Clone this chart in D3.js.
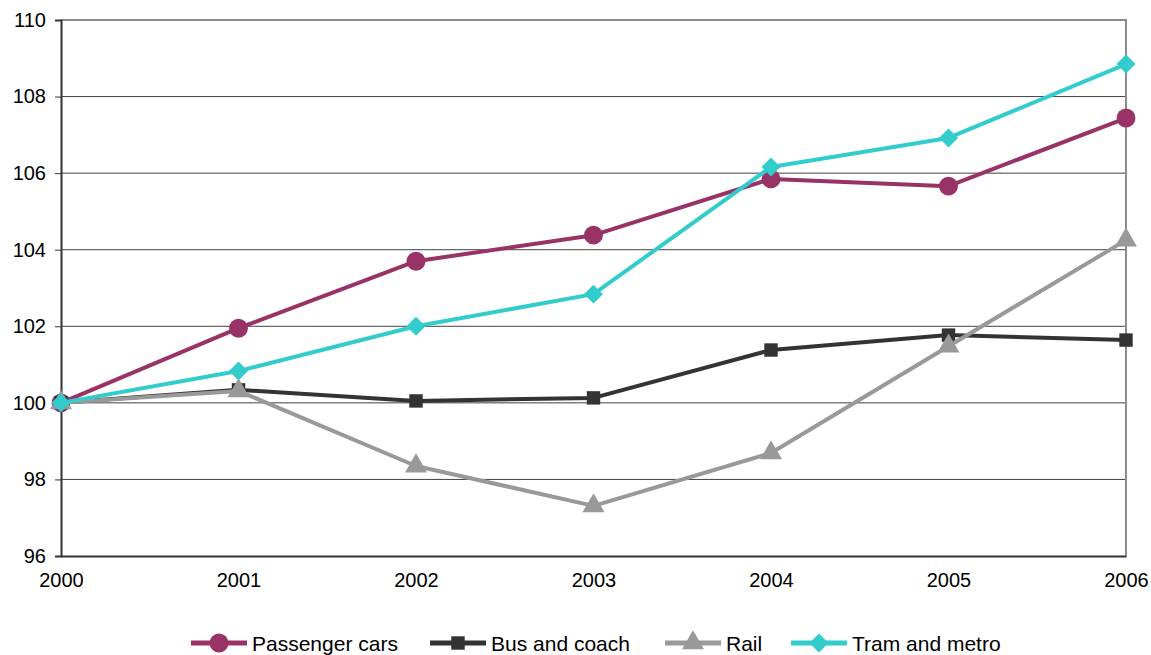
<!DOCTYPE html>
<html>
<head>
<meta charset="utf-8">
<script src="https://cdn.jsdelivr.net/npm/d3@7"></script>
<style>
  html, body { margin: 0; padding: 0; background: #fff; }
  svg { display: block; }
  text { font-family: "Liberation Sans", Arial, sans-serif; fill: #000; }
</style>
</head>
<body>
<svg id="chart" width="1151" height="655"></svg>
<script>
// Index values, 2000 = 100
const years = ["2000", "2001", "2002", "2003", "2004", "2005", "2006"];
const passengerCars = [100, 101.95, 103.70, 104.38, 105.85, 105.66, 107.44];
const busAndCoach   = [100, 100.34, 100.05, 100.13, 101.38, 101.77, 101.64];
const rail          = [100, 100.31, 98.35, 97.31, 98.69, 101.48, 104.25];
const tramAndMetro  = [100, 100.83, 102.00, 102.84, 106.16, 106.92, 108.85];
const yTicks = [96, 98, 100, 102, 104, 106, 108, 110];

const seriesList = [
  { name: "Passenger cars", values: passengerCars, color: "#993366", symbol: "circle" },
  { name: "Bus and coach",  values: busAndCoach,   color: "#333333", symbol: "square" },
  { name: "Rail",           values: rail,          color: "#999999", symbol: "triangle" },
  { name: "Tram and metro", values: tramAndMetro,  color: "#33CCCC", symbol: "diamond" }
];

const svg = d3.select("#chart");
const plot = { left: 61, right: 1126, top: 20, bottom: 556 };

const x = d3.scalePoint().domain(years).range([plot.left, plot.right]);
const y = d3.scaleLinear().domain([96, 110]).range([plot.bottom, plot.top]);

// Horizontal gridlines
svg.append("g")
  .selectAll("line")
  .data(yTicks.filter(t => t !== 96 && t !== 110))
  .join("line")
  .attr("x1", plot.left).attr("x2", plot.right)
  .attr("y1", d => y(d)).attr("y2", d => y(d))
  .attr("stroke", "#404040").attr("stroke-width", 1);

// Top and right frame
svg.append("path")
  .attr("d", `M${plot.left},${plot.top}H${plot.right}V${plot.bottom}`)
  .attr("fill", "none").attr("stroke", "#8c8c8c").attr("stroke-width", 2);

// Y axis
const yAxis = svg.append("g")
  .attr("transform", `translate(${plot.left},0)`)
  .call(d3.axisLeft(y).tickValues(yTicks).tickSize(6).tickPadding(9).tickFormat(d3.format("d")));
yAxis.select(".domain").attr("stroke", "#333").attr("stroke-width", 2);
yAxis.selectAll(".tick line").attr("stroke", "#333");
yAxis.selectAll(".tick text")
  .style("font-family", '"Liberation Sans", Arial, sans-serif')
  .style("font-size", "20px").attr("fill", "#000");

// X axis
const xAxis = svg.append("g")
  .attr("transform", `translate(0,${plot.bottom})`)
  .call(d3.axisBottom(x).tickSize(0).tickPadding(17));
xAxis.select(".domain").attr("stroke", "#333").attr("stroke-width", 2);
xAxis.selectAll(".tick text")
  .style("font-family", '"Liberation Sans", Arial, sans-serif')
  .style("font-size", "20px").attr("fill", "#000");

// Marker shapes
const diamondShape = {
  draw(context, size) {
    const r = Math.sqrt(size / 2);
    context.moveTo(0, -r);
    context.lineTo(r, 0);
    context.lineTo(0, r);
    context.lineTo(-r, 0);
    context.closePath();
  }
};
const symbolTypes = {
  circle: d3.symbolCircle,
  square: d3.symbolSquare,
  triangle: d3.symbolTriangle,
  diamond: diamondShape
};
const symbolSizes = { circle: 280, square: 180, triangle: 210, diamond: 180 };

function drawSymbol(g, s, cx, cy) {
  g.append("path")
    .attr("transform", `translate(${cx},${cy})`)
    .attr("d", d3.symbol().type(symbolTypes[s.symbol]).size(symbolSizes[s.symbol])())
    .attr("fill", s.color);
}

const line = d3.line()
  .x((d, i) => x(years[i]))
  .y(d => y(d));

seriesList.forEach(s => {
  const g = svg.append("g");
  g.append("path")
    .attr("d", line(s.values))
    .attr("fill", "none")
    .attr("stroke", s.color)
    .attr("stroke-width", 4)
    .attr("stroke-linejoin", "round");
  s.values.forEach((v, i) => drawSymbol(g, s, x(years[i]), y(v)));
});

// Legend
const legendY = 643;
const legendX = [191, 430, 665, 791];
seriesList.forEach((s, i) => {
  const g = svg.append("g").attr("transform", `translate(${legendX[i]},${legendY})`);
  g.append("line").attr("x1", 0).attr("x2", 56).attr("y1", 0).attr("y2", 0)
    .attr("stroke", s.color).attr("stroke-width", 5);
  drawSymbol(g, s, 28, 0);
  g.append("text")
    .attr("x", 61).attr("y", 0).attr("dy", "0.36em")
    .style("font-size", "21px")
    .text(s.name);
});
</script>
</body>
</html>
